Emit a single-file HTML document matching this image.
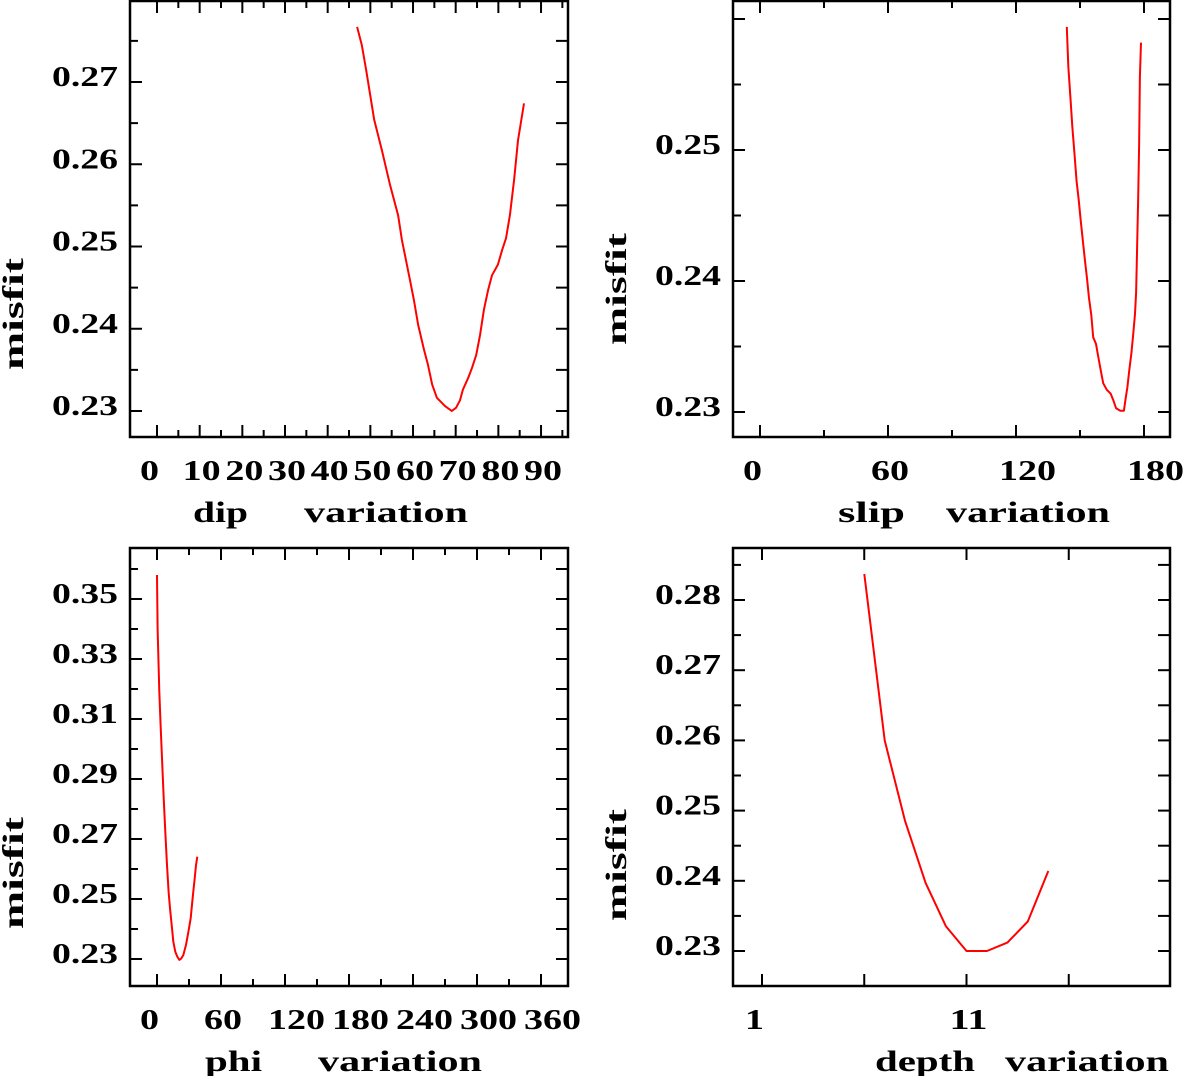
<!DOCTYPE html>
<html><head><meta charset="utf-8">
<style>
html,body{margin:0;padding:0;background:#fff;}
svg{display:block;}
text{font-family:"Liberation Serif","DejaVu Serif",serif;fill:#000;font-weight:bold;}
</style></head>
<body>
<svg id="fig" width="1183" height="1076" viewBox="0 0 1183 1076" xmlns="http://www.w3.org/2000/svg"></svg>
<script>
// ---- dip panel data ----
const dipX = [46.9,48.0,49.0,50.9,52.7,54.6,56.5,57.4,59.3,60.2,61.2,62.6,63.5,64.5,65.6,67.5,69.1,70.1,71.0,71.7,72.9,73.8,74.8,75.7,76.6,77.6,78.5,79.9,80.9,81.8,82.7,83.7,84.6,86.0];
const dipY = [0.2767,0.2745,0.2715,0.2654,0.2617,0.2575,0.2538,0.2508,0.2459,0.2435,0.2405,0.2374,0.2356,0.2332,0.2316,0.2306,0.2300,0.2304,0.2313,0.2326,0.2340,0.2352,0.2368,0.2392,0.2423,0.2447,0.2465,0.2478,0.2496,0.2510,0.2538,0.2581,0.2629,0.2674];
const dipXTicks = [0,10,20,30,40,50,60,70,80,90];
const dipYTicks = [0.23,0.24,0.25,0.26,0.27];
// ---- slip panel data ----
const slipX = [143.8,144.5,145.6,146.4,147.5,148.4,149.4,150.3,151.3,152.3,153.3,154.2,155.3,156.2,157.5,158.6,159.7,160.9,162.5,164.4,165.6,166.9,168.8,170.6,171.3,172.2,173.1,174.1,175.0,175.8,176.3,176.6,176.9,177.3,177.7,178.1,178.6];
const slipY = [0.2594,0.2564,0.2538,0.2518,0.2495,0.2476,0.2462,0.2447,0.2431,0.2416,0.2402,0.2387,0.2374,0.2357,0.2352,0.2342,0.2332,0.2322,0.2317,0.2314,0.2309,0.2303,0.2301,0.2301,0.2309,0.2319,0.2332,0.2345,0.2360,0.2375,0.2391,0.2411,0.2436,0.2464,0.2503,0.2556,0.2582];
const slipXTicks = [0,60,120,180];
const slipYTicks = [0.23,0.24,0.25];
// ---- phi panel data ----
const phiX = [0,0.6,2.2,3.4,4.7,6.3,7.8,9.4,10.9,12.2,13.8,15.3,17.2,19.0,20.9,22.8,24.7,27.2,29.4,31.6,33.4,35.3,36.6,37.8];
const phiY = [0.358,0.3402,0.3191,0.308,0.2969,0.2836,0.2724,0.2613,0.2524,0.2469,0.2413,0.2358,0.2324,0.2308,0.2297,0.2302,0.2313,0.2347,0.2391,0.2436,0.2502,0.2569,0.2613,0.2641];
const phiXTicks = [0,60,120,180,240,300,360];
const phiYTicks = [0.23,0.25,0.27,0.29,0.31,0.33,0.35];
// ---- depth panel data ----
const depthX = [6,7,8,9,10,11,12,13,14,15];
const depthY = [0.2837,0.2600,0.2485,0.2397,0.2335,0.2300,0.2300,0.2312,0.2342,0.2414];
const depthXTicks = [1,11];
const depthYTicks = [0.23,0.24,0.25,0.26,0.27,0.28];

const NS = 'http://www.w3.org/2000/svg';
const svg = document.getElementById('fig');
function mk(tag, attrs, parent){
  const e = document.createElementNS(NS, tag);
  for (const k in attrs) e.setAttribute(k, attrs[k]);
  (parent||svg).appendChild(e);
  return e;
}

function panel(cfg){
  const g = mk('g', {});
  
  
  const sx = v => cfg.x0px + (v - cfg.x0v) * cfg.xs;
  const sy = v => cfg.y0px - (v - cfg.y0v) * cfg.ys;
  const L = cfg.left, R = cfg.right, T = cfg.top, B = cfg.bottom;
  const frame = mk('rect', {x:L, y:T, width:R-L, height:B-T, fill:'none', stroke:'#000', 'stroke-width':2.5}, g);
  
  
  for (let v = cfg.xTickMin; v <= cfg.xTickMax + 1e-9; v += cfg.xTickStep){
    const x = sx(v);
    if (x < L || x > R) continue;
    const major = Math.abs(((v - cfg.xTickMin) / cfg.xTickStep) % cfg.xMajorEvery) < 1e-6;
    const len = major ? 12 : 7;
    const t1 = mk('line', {x1:x, y1:B, x2:x, y2:B-len, stroke:'#000', 'stroke-width':2}, g);
    
    
    const t2 = mk('line', {x1:x, y1:T, x2:x, y2:T+len, stroke:'#000', 'stroke-width':2}, g);
    
    
  }
  for (let v = cfg.yTickMin; v <= cfg.yTickMax + 1e-9; v += cfg.yTickStep){
    const y = sy(v);
    if (y < T || y > B) continue;
    const major = Math.abs(Math.round((v - cfg.yTickMin) / cfg.yTickStep) % cfg.yMajorEvery) < 1e-6;
    const len = major ? 12 : 8;
    const t1 = mk('line', {x1:L, y1:y, x2:L+len, y2:y, stroke:'#000', 'stroke-width':2}, g);
    
    
    const t2 = mk('line', {x1:R, y1:y, x2:R-12, y2:y, stroke:'#000', 'stroke-width':2}, g);
    
    
  }
  cfg.xTicks.forEach(v => {
    const s = String(v);
    const t = mk('text', {x:sx(v) - 17, y:B+43, 'font-size':28, 'text-anchor':'start', textLength:s.length*19, lengthAdjust:'spacingAndGlyphs'}, g);
    t.textContent = s;
    
    
  });
  cfg.yTicks.forEach(v => {
    const t = mk('text', {x:L-78, y:sy(v)+4, 'font-size':28, 'text-anchor':'start', textLength:66, lengthAdjust:'spacingAndGlyphs'}, g);
    t.textContent = v.toFixed(2);
    
    
  });
  const yt = mk('text', {x:0, y:0, 'font-size':30, 'text-anchor':'middle', textLength:112, lengthAdjust:'spacingAndGlyphs',
    transform:'translate(' + cfg.yTitleX + ',' + cfg.yTitleY + ') rotate(-90)'}, g);
  yt.textContent = 'misfit';
  
  
  const xt1 = mk('text', {x:cfg.xt1, y:B+85, 'font-size':30, textLength:cfg.xt1w, lengthAdjust:'spacingAndGlyphs'}, g);
  xt1.textContent = cfg.xTitle;
  
  
  const xt2 = mk('text', {x:cfg.xt2, y:B+85, 'font-size':30, textLength:164, lengthAdjust:'spacingAndGlyphs'}, g);
  xt2.textContent = 'variation';
  
  
  const pts = cfg.xs_.map((v,i) => sx(v).toFixed(1) + ',' + sy(cfg.ys_[i]).toFixed(1)).join(' ');
  const pl = mk('polyline', {points:pts, fill:'none', stroke:'#ff0000', 'stroke-width':2, 'stroke-linejoin':'round'}, g);
  
  
}

panel({name:'dip', left:130, right:568, top:1, bottom:437,
  x0v:0, x0px:157, xs:4.267, y0v:0.23, y0px:411, ys:8225,
  xTickMin:0, xTickMax:95, xTickStep:5, xMajorEvery:2,
  yTickMin:0.23, yTickMax:0.28, yTickStep:0.005, yMajorEvery:2,
  xTicks:dipXTicks, yTicks:dipYTicks,
  yTitleX:23, yTitleY:314, xTitle:'dip', xt1:193, xt1w:55, xt2:304,
  xs_:dipX, ys_:dipY});
panel({name:'slip', left:733, right:1170, top:1, bottom:437,
  x0v:0, x0px:760, xs:2.1333, y0v:0.23, y0px:412, ys:13100,
  xTickMin:0, xTickMax:180, xTickStep:30, xMajorEvery:2,
  yTickMin:0.23, yTickMax:0.26, yTickStep:0.005, yMajorEvery:2,
  xTicks:slipXTicks, yTicks:slipYTicks,
  yTitleX:626, yTitleY:289, xTitle:'slip', xt1:838, xt1w:67, xt2:946,
  xs_:slipX, ys_:slipY});
panel({name:'phi', left:130, right:568, top:548, bottom:986,
  x0v:0, x0px:157, xs:1.0667, y0v:0.23, y0px:959, ys:3000,
  xTickMin:0, xTickMax:360, xTickStep:30, xMajorEvery:2,
  yTickMin:0.23, yTickMax:0.36, yTickStep:0.01, yMajorEvery:2,
  xTicks:phiXTicks, yTicks:phiYTicks,
  yTitleX:23, yTitleY:873, xTitle:'phi', xt1:205, xt1w:57, xt2:318,
  xs_:phiX, ys_:phiY});
panel({name:'depth', left:733, right:1170, top:548, bottom:986,
  x0v:1, x0px:762, xs:20.45, y0v:0.23, y0px:951, ys:7020,
  xTickMin:1, xTickMax:21, xTickStep:5, xMajorEvery:1,
  yTickMin:0.23, yTickMax:0.285, yTickStep:0.005, yMajorEvery:2,
  xTicks:depthXTicks, yTicks:depthYTicks,
  yTitleX:626, yTitleY:865, xTitle:'depth', xt1:875, xt1w:100, xt2:1005,
  xs_:depthX, ys_:depthY});
</script>
</body></html>
